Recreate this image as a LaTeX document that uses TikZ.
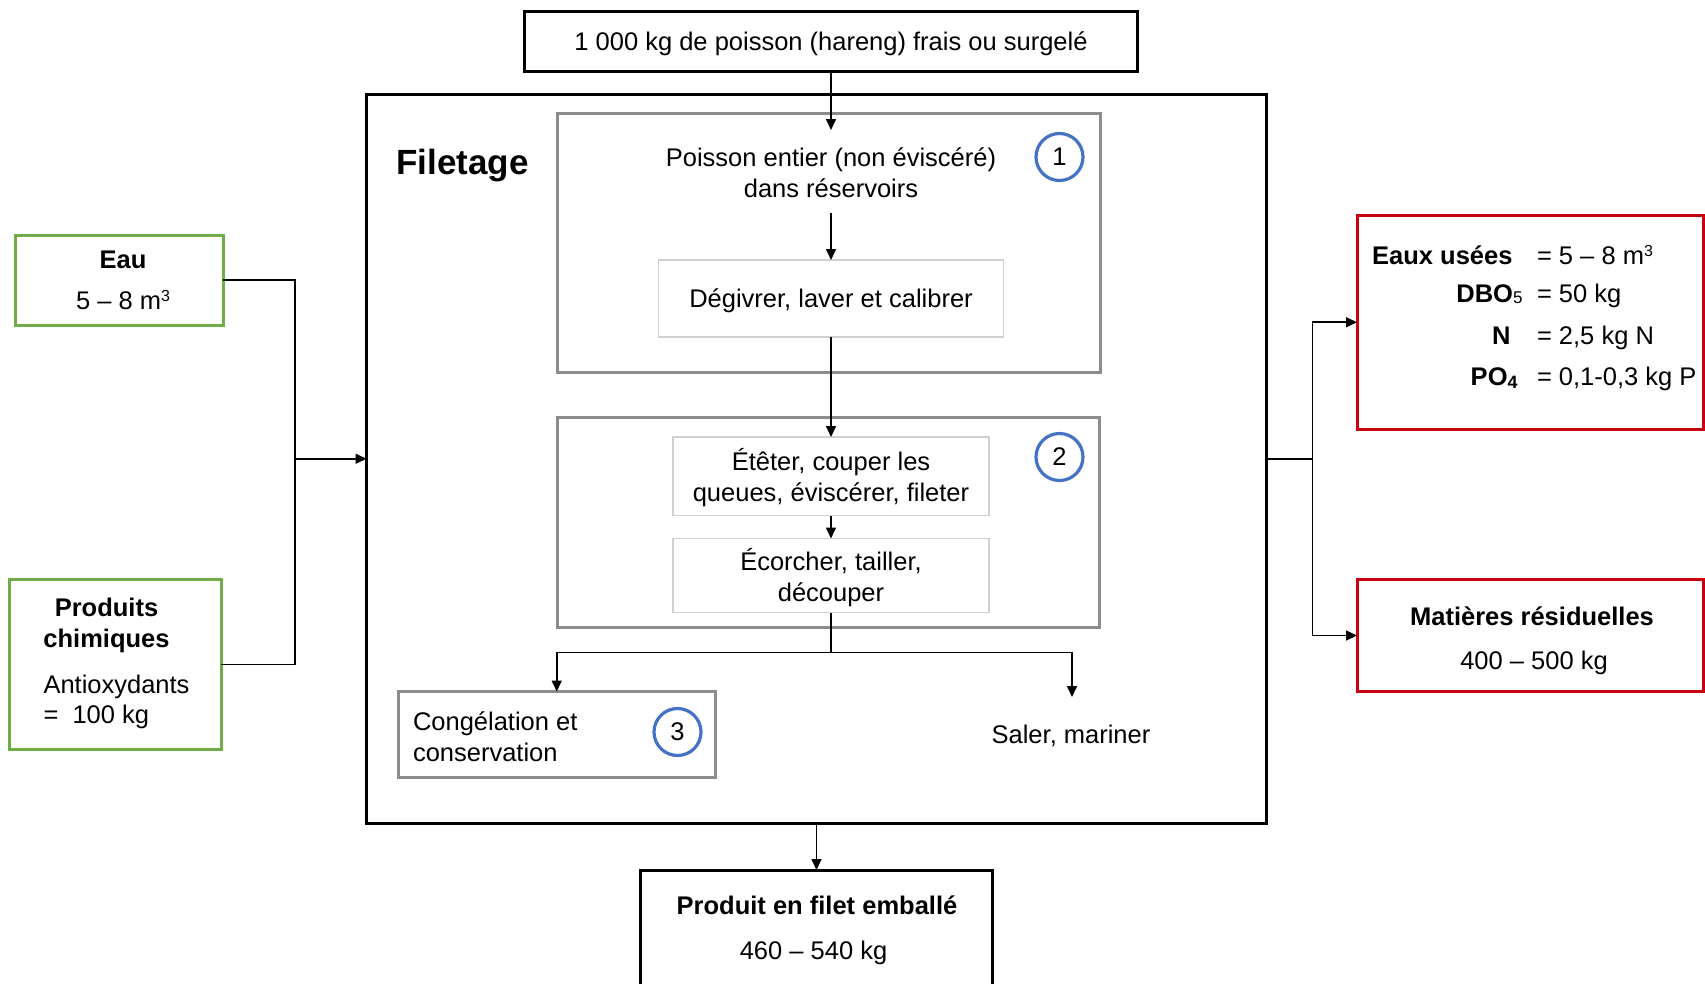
\documentclass[tikz,border=0pt]{standalone}
\usepackage{fontspec}
\setmainfont{Liberation Sans}
\usetikzlibrary{arrows.meta}
\definecolor{grn}{RGB}{112,173,71}
\definecolor{rd}{RGB}{200,0,16}
\definecolor{blu}{RGB}{68,114,196}
\definecolor{midgray}{RGB}{140,140,140}
\definecolor{ltgray}{RGB}{208,208,208}
\newcommand{\cubesup}{\raisebox{8pt}{\fontsize{16}{16}\selectfont 3}}
\begin{document}
\begin{tikzpicture}[x=1pt,y=-1pt,
  every node/.style={font=\fontsize{25.5}{31.5}\selectfont, inner sep=0pt, outer sep=0pt},
  blackbox/.style={draw=black, line width=3pt, anchor=north west},
  graybox/.style={draw=midgray, line width=3pt, anchor=north west},
  lightbox/.style={draw=ltgray, line width=1.5pt, anchor=north west},
  greenbox/.style={draw=grn, line width=3pt, anchor=north west},
  redbox/.style={draw=rd, line width=3pt, anchor=north west},
  circ/.style={draw=blu, line width=3.2pt, circle, minimum size=47pt},
  txt/.style={anchor=base},
  txtl/.style={anchor=base west},
  txtr/.style={anchor=base east},
  bold/.style={font=\bfseries\fontsize{25.5}{31.5}\selectfont},
  line/.style={line width=1.6pt},
  conn/.style={line width=1.6pt, -{Triangle[length=11pt,width=10pt]}}
]
\useasboundingbox (0,0) rectangle (1705,983);
\fill[white] (0,0) rectangle (1705,983);

% boxes
\node[blackbox, minimum width=613pt, minimum height=60pt] (top) at (524.5,11) {};
\node[blackbox, minimum width=900pt, minimum height=729.5pt] (outer) at (366.5,94) {};
\node[graybox, minimum width=543pt, minimum height=259pt] (box1) at (557,113) {};
\node[lightbox, minimum width=345pt, minimum height=77pt] (deg) at (658.5,260) {};
\node[graybox, minimum width=542.5pt, minimum height=210pt] (box2) at (557,417.5) {};
\node[lightbox, minimum width=316pt, minimum height=78.5pt] (etet) at (673,437) {};
\node[lightbox, minimum width=316pt, minimum height=74pt] (ecor) at (673,538.5) {};
\node[graybox, minimum width=317.5pt, minimum height=86pt] (box3) at (398,691.5) {};
\node[blackbox, minimum width=352pt, minimum height=150pt] (bottom) at (640.5,870) {};
\node[greenbox, minimum width=208pt, minimum height=89.5pt] (eau) at (15,235.5) {};
\node[greenbox, minimum width=212pt, minimum height=170pt] (chem) at (9,579.5) {};
\node[redbox, minimum width=346pt, minimum height=214.5pt] (eaux) at (1357,215) {};
\node[redbox, minimum width=346pt, minimum height=112pt] (mat) at (1357,579.5) {};

% circles
\node[circ] (c1) at (1059.5,157) {1};
\node[circ] (c2) at (1059.5,457) {2};
\node[circ] (c3) at (677.5,732) {3};

% texts
\node[txt] (ttop) at (831,50) {1 000 kg de poisson (hareng) frais ou surgelé};
\node[txt, font=\bfseries\fontsize{35}{40}\selectfont] (tfil) at (462.5,174) {Filetage};
\node[txt] (tpo1) at (831,166) {Poisson entier (non éviscéré)};
\node[txt] (tpo2) at (831,197.5) {dans réservoirs};
\node[txt] (tdeg) at (831,307.5) {Dégivrer, laver et calibrer};
\node[txt] (tet1) at (831,470) {Étêter, couper les};
\node[txt] (tet2) at (831,501.5) {queues, éviscérer, fileter};
\node[txt] (tec1) at (831,570) {Écorcher, tailler,};
\node[txt] (tec2) at (831,601.5) {découper};
\node[txtl] (tco1) at (413,730) {Congélation et};
\node[txtl] (tco2) at (413,761.5) {conservation};
\node[txt] (tsal) at (1071,743) {Saler, mariner};
\node[txt, bold] (tpr1) at (817,914) {Produit en filet emballé};
\node[txt] (tpr2) at (813.5,959.5) {460 – 540 kg};
\node[txt, bold] (teau1) at (123,268) {Eau};
\node[txt] (teau2) at (123,309) {5 – 8 m\cubesup};
\node[txt, bold] (tch1) at (106.5,616) {Produits};
\node[txt, bold] (tch2) at (106.5,647.5) {chimiques};
\node[txtl] (tch3) at (43.5,693) {Antioxydants};
\node[txtl] (tch4) at (43.5,723.5) {=\ \ 100 kg};
\node[txtr, bold] (teu1) at (1512.5,264.5) {Eaux usées};
\node[txtr, bold] (teu2) at (1522.5,302.5) {DBO\raisebox{-1pt}{\mdseries\fontsize{17}{17}\selectfont 5}};
\node[txtr, bold] (teu3) at (1510.5,344) {N};
\node[txtr, bold] (teu4) at (1518,385) {PO\textsubscript{4}};
\node[txtl] (tev1) at (1537,264.5) {= 5 – 8 m\cubesup};
\node[txtl] (tev2) at (1537,302.5) {= 50 kg};
\node[txtl] (tev3) at (1537,344) {= 2,5 kg N};
\node[txtl] (tev4) at (1537,385) {= 0,1-0,3 kg P};
\node[txt, bold] (tma1) at (1532,625.5) {Matières résiduelles};
\node[txt] (tma2) at (1534,669) {400 – 500 kg};

% connector points
\coordinate (a1) at (831,130);
\coordinate (p1) at (831,213);
\coordinate (split) at (831,652.5);
\coordinate (saltop) at (1072,697);
\coordinate (jl) at (295,458.75);
\coordinate (jr) at (1312.5,458.75);

% connectors
\draw[conn] (top.south) -- (a1);
\draw[conn] (p1) -- (deg.north);
\draw[conn] (deg.south) -- (etet.north);
\draw[conn] (etet.south) -- (ecor.north);
\draw[line] (ecor.south) -- (split);
\draw[conn] (split) -| (box3.north);
\draw[conn] (split) -| (saltop);
\draw[conn] (outer.south) -- (bottom.north);
\draw[line] (eau.east) -| (jl);
\draw[line] (chem.east) -| (jl);
\draw[conn] (jl) -- (outer.west);
\draw[line] (outer.east) -- (jr);
\draw[conn] (jr) |- (eaux.west);
\draw[conn] (jr) |- (mat.west);
\end{tikzpicture}
\end{document}
